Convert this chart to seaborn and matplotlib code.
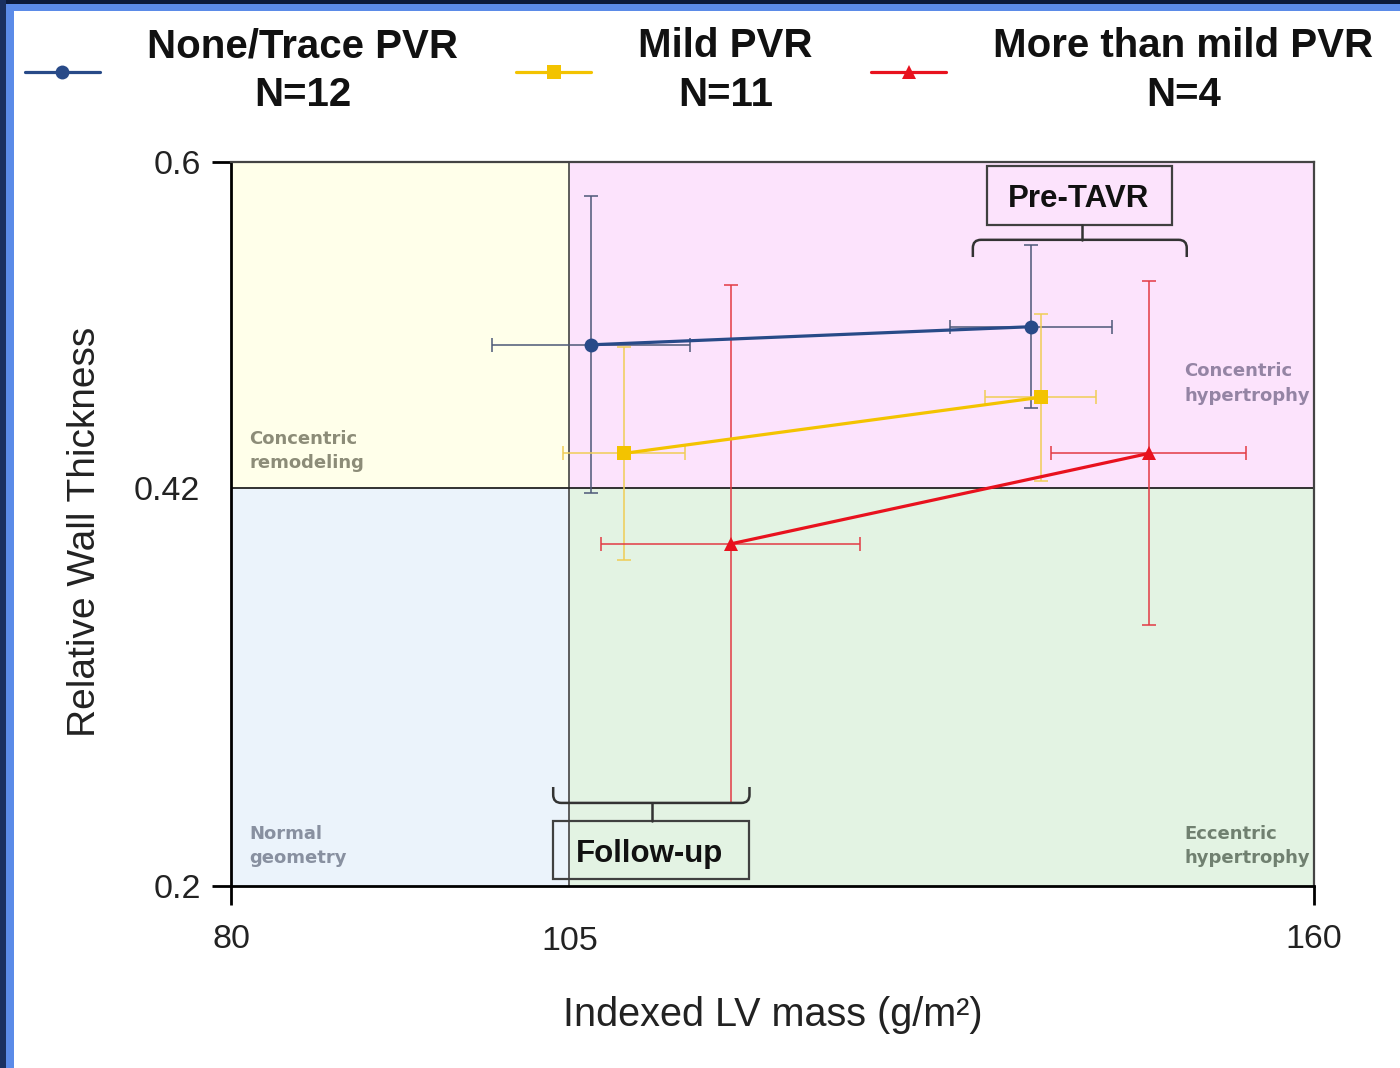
import numpy as np
import pandas as pd
import matplotlib
matplotlib.use("Agg")
import matplotlib.pyplot as plt
import seaborn as sns
from matplotlib.patches import Rectangle, PathPatch
from matplotlib.path import Path

# ---------------- data ----------------
groups = ["None/Trace PVR\nN=12", "Mild PVR\nN=11", "More than mild PVR\nN=4"]
timepoints = ["Follow-up", "Pre-TAVR"]

lvmi_none = [106.6, 139.1]
rwt_none = [0.499, 0.509]
lvmi_err_none = [7.3, 6.0]
rwt_err_none = [0.082, 0.045]

lvmi_mild = [109.0, 139.8]
rwt_mild = [0.439, 0.470]
lvmi_err_mild = [4.5, 4.1]
rwt_err_mild = [0.059, 0.046]

lvmi_more = [116.9, 147.8]
rwt_more = [0.389, 0.439]
lvmi_err_more = [9.6, 7.2]
rwt_err_more = [0.143, 0.095]

x_ticks = [80, 105, 160]
y_ticks = [0.2, 0.42, 0.6]
x_tick_labels = ["80", "105", "160"]
y_tick_labels = ["0.2", "0.42", "0.6"]
region_names = ["Normal\ngeometry", "Concentric\nremodeling",
                "Concentric\nhypertrophy", "Eccentric\nhypertrophy"]

# ---------------- styles ----------------
line_colors = ["#284a88", "#f3c300", "#e8121e"]
err_colors = ["#4d5878", "#f0cd55", "#e23a44"]
marker_list = ["o", "s", "^"]
region_fill = ["#ebf3fb", "#ffffea", "#fce3fc", "#e3f3e3"]
region_text = ["#8890a0", "#8c8c78", "#9484a4", "#708070"]

sns.set_theme(style="ticks")
plt.rcParams["font.family"] = ["Liberation Sans", "DejaVu Sans"]

W, H = 1400, 1068
fig = plt.figure(figsize=(W / 100, H / 100), dpi=100)
fig.patch.set_facecolor("white")
ax = fig.add_axes([231 / W, 1 - 886 / H, (1314 - 231) / W, (886 - 162) / H])

# frame decoration (top / left blue border)
fig.patches.append(Rectangle((0, 1 - 11 / H), 1, 11 / H, transform=fig.transFigure,
                             fc="#5b8be8", ec="none", zorder=-5))
fig.patches.append(Rectangle((0, 1 - 4 / H), 1, 4 / H, transform=fig.transFigure,
                             fc="#0c1a3a", ec="none", zorder=-4))
fig.patches.append(Rectangle((0, 0), 14 / W, 1, transform=fig.transFigure,
                             fc="#5b8be8", ec="none", zorder=-5))
fig.patches.append(Rectangle((0, 0), 6 / W, 1, transform=fig.transFigure,
                             fc="#1a3060", ec="none", zorder=-4))

xmin, xmid, xmax = x_ticks
ymin, ymid, ymax = y_ticks

# background quadrants
quads = [(xmin, ymin, xmid - xmin, ymid - ymin),
         (xmin, ymid, xmid - xmin, ymax - ymid),
         (xmid, ymid, xmax - xmid, ymax - ymid),
         (xmid, ymin, xmax - xmid, ymid - ymin)]
for (qx, qy, qw, qh), c in zip(quads, region_fill):
    ax.add_patch(Rectangle((qx, qy), qw, qh, fc=c, ec="none", zorder=0))
ax.axvline(xmid, color="#505050", lw=1.3, zorder=1)
ax.axhline(ymid, color="#222222", lw=1.3, zorder=1)

# region labels
label_pos = [(81.35, 0.2221), (81.35, 0.4403), (150.4, 0.4776), (150.4, 0.2221)]
for (tx, ty), name, c in zip(label_pos, region_names, region_text):
    ax.text(tx, ty, name, color=c, fontsize=13, weight="bold",
            family="DejaVu Sans", va="center", ha="left", linespacing=1.45)

# error bars
series = [(lvmi_none, rwt_none, lvmi_err_none, rwt_err_none),
          (lvmi_mild, rwt_mild, lvmi_err_mild, rwt_err_mild),
          (lvmi_more, rwt_more, lvmi_err_more, rwt_err_more)]
for (xs, ys, xe, ye), ec in zip(series, err_colors):
    ax.errorbar(xs, ys, xerr=xe, yerr=ye, fmt="none", ecolor=ec,
                elinewidth=1.1, capsize=5, capthick=1.1, zorder=2)

# lines with markers via seaborn
rows = []
for g, (xs, ys, xe, ye) in zip(groups, series):
    for t, xv, yv in zip(timepoints, xs, ys):
        rows.append({"group": g, "time": t, "LVMI": xv, "RWT": yv})
df = pd.DataFrame(rows)

sns.lineplot(data=df, x="LVMI", y="RWT", hue="group", style="group",
             hue_order=groups, style_order=groups,
             palette=dict(zip(groups, line_colors)),
             markers=dict(zip(groups, marker_list)), dashes=False,
             markersize=10, linewidth=2.3, markeredgewidth=0,
             errorbar=None, sort=False, ax=ax, zorder=3)

handles, labels = ax.get_legend_handles_labels()
if ax.get_legend() is not None:
    ax.get_legend().remove()

# annotation boxes + brackets
def bracket(x0, x1, y_bar, y_end, rx, ry):
    s = np.sign(y_end - y_bar)
    verts = [(x0, y_end), (x0, y_bar + s * ry), (x0, y_bar), (x0 + rx, y_bar),
             (x1 - rx, y_bar), (x1, y_bar), (x1, y_bar + s * ry), (x1, y_end)]
    codes = [Path.MOVETO, Path.LINETO, Path.CURVE3, Path.CURVE3,
             Path.LINETO, Path.CURVE3, Path.CURVE3, Path.LINETO]
    ax.add_patch(PathPatch(Path(verts, codes), fc="none", ec="#333333",
                           lw=1.8, zorder=4, clip_on=False))

ax.add_patch(Rectangle((135.85, 0.565), 13.65, 0.033, fill=False, ec="#404040",
                       lw=1.6, zorder=4, clip_on=False))
ax.text(142.6, 0.5797, timepoints[1], ha="center", va="center", fontsize=22.5,
        weight="bold", color="#111111", zorder=5)
bracket(134.8, 150.6, 0.557, 0.5475, 0.6, 0.0045)
ax.plot([142.86, 142.86], [0.557, 0.565], color="#333333", lw=1.8, zorder=4)

ax.add_patch(Rectangle((103.8, 0.2039), 14.5, 0.032, fill=False, ec="#404040",
                       lw=1.6, zorder=4, clip_on=False))
ax.text(110.95, 0.2175, timepoints[0], ha="center", va="center", fontsize=22.5,
        weight="bold", color="#111111", zorder=5)
bracket(103.8, 118.3, 0.2459, 0.2547, 0.6, 0.0045)
ax.plot([111.1, 111.1], [0.2459, 0.2359], color="#333333", lw=1.8, zorder=4)

# axes styling
ax.set_xlim(xmin, xmax)
ax.set_ylim(ymin, ymax)
for side in ["left", "bottom"]:
    ax.spines[side].set_linewidth(2.0)
    ax.spines[side].set_color("black")
for side in ["top", "right"]:
    ax.spines[side].set_linewidth(1.6)
    ax.spines[side].set_color("#444444")
    ax.spines[side].set_visible(True)

ax.set_xticks([x_ticks[0], x_ticks[2]])
ax.set_xticklabels([x_tick_labels[0], x_tick_labels[2]])
ax.set_xticks([x_ticks[1]], minor=True)
ax.set_xticklabels([x_tick_labels[1]], minor=True)
ax.set_yticks([y_ticks[0], y_ticks[2]])
ax.set_yticklabels([y_tick_labels[0], y_tick_labels[2]])
ax.set_yticks([y_ticks[1]], minor=True)
ax.set_yticklabels([y_tick_labels[1]], minor=True)

ax.tick_params(axis="both", which="major", direction="out", length=13.5, width=2,
               color="black", labelsize=24.5, labelcolor="#222222",
               bottom=True, left=True)
ax.tick_params(axis="x", which="major", pad=14)
ax.tick_params(axis="y", which="major", pad=8)
ax.tick_params(axis="both", which="minor", length=0, labelsize=24.5,
               labelcolor="#222222", bottom=True, left=True)
ax.tick_params(axis="x", which="minor", pad=29)
ax.tick_params(axis="y", which="minor", pad=22)

ax.set_xlabel("Indexed LV mass (g/m\u00b2)", fontsize=28.5, color="#222222")
ax.set_ylabel("Relative Wall Thickness", fontsize=28, color="#222222")
ax.xaxis.label.set_va("center")
ax.xaxis.set_label_coords(0.5, (886 - 1015) / 724)
ax.yaxis.label.set_va("center")
ax.yaxis.set_label_coords((85 - 231) / 1083, (886 - 532) / 724)

# legend
leg = fig.legend(handles, labels, loc="upper left",
                 bbox_to_anchor=(25 / W, 1 - 27 / H), ncol=3, frameon=False,
                 prop={"weight": "bold", "size": 29}, handlelength=1.85,
                 handletextpad=1.18, columnspacing=1.45, borderpad=0,
                 borderaxespad=0)
for t in leg.get_texts():
    t.set_multialignment("center")
    t.set_linespacing(1.38)
    t.set_color("#111111")

fig.savefig("out.png", dpi=100, facecolor="white")
